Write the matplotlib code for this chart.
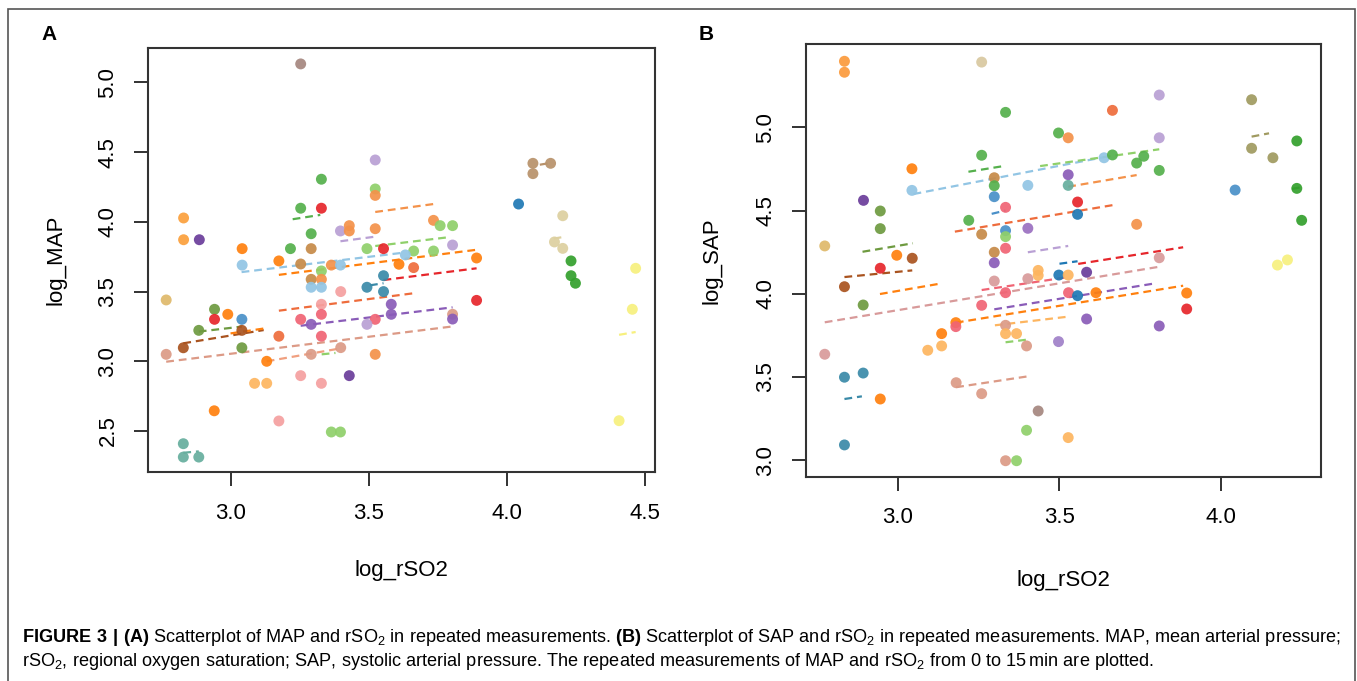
import matplotlib
matplotlib.use("Agg")
import matplotlib.pyplot as plt
from matplotlib.patches import Rectangle

# palette (per-subject colours)
LB = "#92c5e4"; BL = "#1f78b4"; SB = "#4a90c8"; TB = "#3a8aa8"
LG = "#8fd06a"; GR = "#55b04c"; DG = "#33a02c"; OL = "#6e9a40"
PK = "#f5a0a0"; RD = "#e6262b"; PR = "#f06474"; LO = "#fdb560"
OG = "#ff800e"; OA = "#f4924a"; LP = "#b9a0d4"; PU = "#8a5cb8"
DP = "#6a3d9a"; YE = "#f7f07e"; BR = "#a9531f"; TN = "#c68a48"
T2 = "#b8926a"; BE = "#ddd0a0"; TT = "#66ae9e"; SA = "#dc9a86"
TY = "#dfb96a"; MV = "#a5877f"; CO = "#ee6c3c"; KH = "#a09a60"
SP = "#d89a9a"

# ---- panel A: log_rSO2 vs log_MAP ----
a_x = [3.254, 3.524, 3.524, 3.524, 3.329, 3.254, 3.329, 2.830, 2.830, 2.887,
       3.292, 3.398, 3.430, 3.430, 3.524, 3.042, 3.217, 3.292, 3.494, 3.554,
       3.042, 3.175, 3.254, 3.365, 3.398, 3.610, 3.329, 3.292, 3.329, 3.292,
       3.329, 3.399, 3.494, 3.554, 3.554, 2.767, 2.942, 2.942, 2.990, 3.041,
       2.885, 3.041, 2.829, 3.041, 2.767, 3.175, 3.131, 3.087, 3.131, 2.941,
       3.175, 2.829, 2.829, 2.885, 3.254, 3.329, 3.329, 3.329, 3.292, 3.292,
       3.399, 3.254, 3.329, 3.430, 3.365, 3.398, 3.524, 3.494, 3.582, 3.582,
       3.524, 4.095, 4.159, 4.095, 4.043, 4.203, 4.173, 4.203, 4.233, 4.467,
       3.735, 3.759, 3.804, 3.804, 3.663, 3.735, 3.633, 3.891, 3.663, 4.233,
       4.249, 4.455, 4.407, 3.891, 3.804, 3.804]
a_y = [5.133, 4.444, 4.236, 4.190, 4.306, 4.098, 4.098, 4.028, 3.872, 3.872,
       3.915, 3.935, 3.973, 3.935, 3.951, 3.808, 3.808, 3.808, 3.808, 3.808,
       3.690, 3.720, 3.698, 3.690, 3.690, 3.696, 3.648, 3.588, 3.588, 3.531,
       3.531, 3.500, 3.531, 3.614, 3.500, 3.440, 3.373, 3.301, 3.337, 3.301,
       3.222, 3.222, 3.097, 3.097, 3.050, 3.180, 3.000, 2.842, 2.842, 2.645,
       2.572, 2.409, 2.313, 2.313, 3.301, 3.409, 3.337, 3.180, 3.265, 3.050,
       3.098, 2.897, 2.842, 2.897, 2.493, 2.493, 3.301, 3.265, 3.409, 3.337,
       3.050, 4.420, 4.420, 4.346, 4.128, 4.044, 3.856, 3.810, 3.720, 3.667,
       4.011, 3.973, 3.973, 3.834, 3.791, 3.791, 3.763, 3.741, 3.672, 3.614,
       3.560, 3.373, 2.574, 3.437, 3.337, 3.303]
a_c = [MV, LP, LG, OA, GR, GR, RD, "#fba03c", "#fba03c", DP,
       GR, LP, OA, OA, OA, OG, GR, TN, LG, RD,
       LB, OG, TN, OA, LB, OG, LG, TN, OA, LB,
       LB, PK, TB, TB, TB, TY, OL, RD, OG, SB,
       OL, BR, BR, OL, SA, CO, OG, LO, LO, OG,
       PK, TT, TT, TT, PR, PK, PR, PR, PU, SA,
       SA, PK, PK, DP, LG, LG, PR, LP, PU, PU,
       OA, T2, T2, T2, BL, BE, BE, BE, DG, YE,
       OA, LG, LG, LP, LG, LG, LB, OG, CO, DG,
       DG, YE, YE, RD, SA, PU]

a_lx0 = [3.225, 3.524, 3.398, 3.524, 3.040, 3.175, 3.554, 3.175, 3.254, 2.767,
         3.131, 3.330, 2.829, 2.885, 3.000, 2.829, 4.407, 4.170, 4.120, 3.505]
a_lx1 = [3.325, 3.735, 3.524, 3.790, 3.630, 3.891, 3.891, 3.663, 3.804, 3.804,
         3.399, 3.380, 3.120, 3.041, 3.120, 2.885, 4.467, 4.200, 4.150, 3.554]
a_ly0 = [4.019, 4.071, 3.861, 3.827, 3.640, 3.620, 3.583, 3.363, 3.255, 2.997,
         3.000, 3.050, 3.129, 3.213, 3.200, 2.344, 3.190, 3.880, 4.410, 3.545]
a_ly1 = [4.050, 4.128, 3.894, 3.890, 3.780, 3.800, 3.667, 3.488, 3.387, 3.250,
         3.093, 3.060, 3.224, 3.249, 3.235, 2.354, 3.210, 3.890, 4.420, 3.560]
a_lc = [GR, OA, LP, LG, LB, OG, RD, CO, PU, SA,
        "#f0a080", LG, BR, OL, OG, TT, YE, BE, T2, TB]

# ---- panel B: log_rSO2 vs log_SAP ----
b_x = [2.834, 2.834, 3.259, 3.333, 3.259, 3.043, 3.043, 3.298, 3.298, 3.298,
       3.333, 2.893, 2.945, 2.945, 3.219, 3.259, 3.333, 3.333, 3.298, 3.298,
       3.333, 2.773, 2.996, 3.044, 2.945, 2.834, 2.892, 2.773, 2.834, 2.892,
       2.945, 2.834, 3.092, 3.135, 3.135, 3.179, 3.179, 3.180, 3.259, 3.259,
       3.298, 3.333, 3.333, 3.333, 3.367, 3.398, 3.398, 3.333, 3.367, 3.402,
       3.809, 3.664, 3.497, 3.527, 3.809, 3.638, 3.664, 3.761, 3.739, 3.809,
       3.402, 3.527, 3.527, 3.556, 3.556, 3.402, 3.739, 4.095, 4.095, 4.161,
       4.235, 4.235, 4.250, 4.044, 4.175, 4.206, 3.809, 3.584, 3.434, 3.434,
       3.498, 3.527, 3.528, 3.556, 3.613, 3.584, 3.809, 3.894, 3.894, 3.497,
       3.434, 3.527]
b_y = [5.397, 5.331, 5.392, 5.090, 4.832, 4.751, 4.621, 4.697, 4.649, 4.583,
       4.519, 4.561, 4.497, 4.391, 4.441, 4.357, 4.379, 4.343, 4.249, 4.186,
       4.273, 4.287, 4.231, 4.213, 4.153, 4.042, 3.932, 3.636, 3.498, 3.523,
       3.367, 3.091, 3.660, 3.686, 3.760, 3.826, 3.802, 3.465, 3.399, 3.930,
       4.076, 4.006, 3.810, 3.760, 3.760, 3.686, 3.179, 2.996, 2.996, 4.090,
       5.194, 5.102, 4.966, 4.937, 4.937, 4.817, 4.834, 4.826, 4.785, 4.741,
       4.651, 4.715, 4.651, 4.551, 4.477, 4.393, 4.417, 5.166, 4.874, 4.817,
       4.918, 4.633, 4.441, 4.623, 4.172, 4.203, 4.216, 4.129, 4.140, 4.110,
       4.112, 4.112, 4.006, 3.988, 4.006, 3.848, 3.806, 4.004, 3.908, 3.712,
       3.295, 3.135]
b_c = ["#fb9a3c", "#fb9a3c", "#d8c8a0", GR, GR, OG, LB, TN, GR, SB,
       PR, DP, OL, OL, GR, TN, SB, LG, TN, PU,
       PR, TY, OG, BR, RD, BR, OL, SP, TB, TB,
       OG, TB, LO, LO, OG, OG, PR, SA, SA, PR,
       SP, PR, SA, LO, LO, SA, LG, SA, LG, SP,
       LP, CO, GR, OA, LP, LB, GR, GR, GR, GR,
       LB, PU, TT, RD, BL, "#9a70c0", OA, KH, KH, KH,
       DG, DG, DG, SB, YE, YE, SP, DP, LO, LO,
       BL, LO, PR, BL, OG, PU, PU, OG, RD, "#a080c8",
       MV, LO]

b_lx0 = [3.048, 3.440, 3.218, 3.527, 3.176, 3.290, 2.890, 2.834, 2.944, 2.773,
         3.259, 3.558, 3.402, 3.500, 3.298, 3.179, 3.300, 3.333, 3.180, 2.834,
         4.095, 4.220]
b_lx1 = [3.636, 3.809, 3.333, 3.739, 3.667, 3.333, 3.046, 3.044, 3.135, 3.809,
         3.528, 3.883, 3.527, 3.556, 3.796, 3.883, 3.527, 3.409, 3.398, 2.888,
         4.149, 4.250]
b_ly0 = [4.599, 4.767, 4.733, 4.643, 4.373, 4.480, 4.252, 4.100, 3.998, 3.828,
         4.022, 4.179, 4.249, 4.180, 3.906, 3.826, 3.810, 3.708, 3.438, 3.367,
         4.944, 4.630]
b_ly1 = [4.820, 4.868, 4.769, 4.713, 4.533, 4.500, 4.303, 4.140, 4.062, 4.162,
         4.100, 4.279, 4.287, 4.195, 4.062, 4.048, 3.862, 3.726, 3.502, 3.383,
         4.964, 4.640]
b_lc = [LB, LG, GR, OA, CO, SB, OL, BR, OG, SP,
        PR, RD, LP, BL, PU, OG, LO, LG, SA, TB,
        KH, DG]

A_XTICKS = [3.0, 3.5, 4.0, 4.5]
A_YTICKS = [2.5, 3.0, 3.5, 4.0, 4.5, 5.0]
B_XTICKS = [3.0, 3.5, 4.0]
B_YTICKS = [3.0, 3.5, 4.0, 4.5, 5.0]

CAPTION_1 = (r"$\mathbf{FIGURE\ 3\ |\ (A)}$ Scatterplot of MAP and rSO$_2$ in repeated measurements. "
             r"$\mathbf{(B)}$ Scatterplot of SAP and rSO$_2$ in repeated measurements. "
             r"MAP, mean arterial pressure;")
CAPTION_2 = (r"rSO$_2$, regional oxygen saturation; SAP, systolic arterial pressure. "
             r"The repeated measurements of MAP and rSO$_2$ from 0 to 15$\,$min are plotted.")

W, H = 1357, 681

plt.rcParams["font.family"] = ["Liberation Sans", "DejaVu Sans"]
plt.rcParams["mathtext.fontset"] = "custom"
plt.rcParams["mathtext.rm"] = "Liberation Sans"
plt.rcParams["mathtext.bf"] = "Liberation Sans:bold"


def px_axes(fig, left, top, right, bottom):
    return fig.add_axes([left / W, 1 - bottom / H, (right - left) / W, (bottom - top) / H])


def draw_panel(ax, xs, ys, cs, lx0, lx1, ly0, ly1, lc, xticks, yticks, xlim, ylim,
               xlabel, ylabel, xlabelpad, ylabelpad):
    for x0, x1, y0, y1, c in zip(lx0, lx1, ly0, ly1, lc):
        ax.plot([x0, x1], [y0, y1], color=c, lw=1.6, dashes=(3.5, 2.2), zorder=2)
    ax.scatter(xs, ys, s=62, c=cs, edgecolors="none", alpha=0.92, zorder=3)
    ax.set_xlim(*xlim)
    ax.set_ylim(*ylim)
    ax.set_xticks(xticks)
    ax.set_xticklabels([f"{t:.1f}" for t in xticks])
    ax.set_yticks(yticks)
    ax.set_yticklabels([f"{t:.1f}" for t in yticks], rotation=90, va="center")
    ax.tick_params(axis="x", length=10, width=1.3, pad=12, labelsize=16, color="#222222")
    ax.tick_params(axis="y", length=10, width=1.3, pad=11, labelsize=16, color="#222222")
    for sp in ax.spines.values():
        sp.set_linewidth(1.5)
        sp.set_color("#333333")
    ax.set_xlabel(xlabel, fontsize=16, labelpad=xlabelpad)
    ax.set_ylabel(ylabel, fontsize=16, labelpad=ylabelpad)


def main():
    fig = plt.figure(figsize=(W / 100, H / 100), dpi=100)

    ax_a = px_axes(fig, 147.7, 48.3, 654.7, 472)
    draw_panel(ax_a, a_x, a_y, a_c, a_lx0, a_lx1, a_ly0, a_ly1, a_lc,
               A_XTICKS, A_YTICKS, (2.70, 4.536), (2.206, 5.245),
               "log_rSO2", "log_MAP", 26, 22)

    ax_b = px_axes(fig, 805.7, 44.3, 1320.7, 476.7)
    draw_panel(ax_b, b_x, b_y, b_c, b_lx0, b_lx1, b_ly0, b_ly1, b_lc,
               B_XTICKS, B_YTICKS, (2.714, 4.309), (2.900, 5.499),
               "log_rSO2", "log_SAP", 30, 24)

    fig.text(49 / W, 1 - 35 / H, "A", fontsize=15, fontweight="bold", ha="center", va="center")
    fig.text(706 / W, 1 - 35 / H, "B", fontsize=15, fontweight="bold", ha="center", va="center")

    # outer figure frame (open at the bottom)
    fig.add_artist(Rectangle((8 / W, -0.2), (1355 - 8) / W, 1.2 - 9 / H,
                             transform=fig.transFigure, fill=False, lw=1.2,
                             edgecolor="#555555"))

    fig.text(22 / W, 1 - 637 / H, CAPTION_1, fontsize=13.1, va="center", ha="left")
    fig.text(22 / W, 1 - 661 / H, CAPTION_2, fontsize=13.1, va="center", ha="left")

    fig.savefig("out.png", dpi=100)
    plt.close(fig)


if __name__ == "__main__":
    main()
